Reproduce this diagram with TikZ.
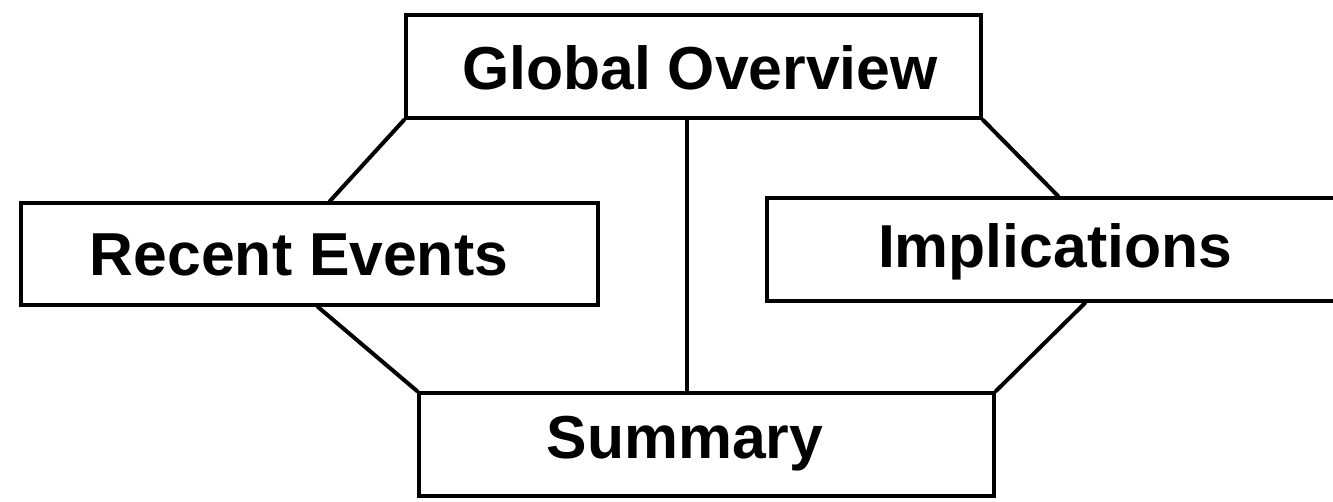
\documentclass[tikz,border=0pt]{standalone}
\usepackage{fontspec}
\setmainfont{Liberation Sans}
\usetikzlibrary{calc}
\begin{document}
\begin{tikzpicture}[x=0.75pt,y=-0.75pt,
  boxnode/.style={draw=black,line width=3pt,rectangle,inner sep=0pt,anchor=north west},
  lbl/.style={inner sep=0pt,anchor=base,font=\fontsize{45.5}{50}\selectfont\bfseries},
  link/.style={draw=black,line width=3pt,line cap=round}]
  \useasboundingbox (0,0) rectangle (1333,502);
  \clip (0,0) rectangle (1333,502);
  % the four boxes (north-west corner, size in px)
  \node[boxnode,minimum width=575*0.75pt,minimum height=103*0.75pt] (go) at (404,13) {};
  \node[boxnode,minimum width=577*0.75pt,minimum height=102*0.75pt] (re) at (19,201) {};
  \node[boxnode,minimum width=590*0.75pt,minimum height=103*0.75pt] (im) at (765,196) {};
  \node[boxnode,minimum width=575*0.75pt,minimum height=103*0.75pt] (su) at (417,391) {};
  % labels
  \node[lbl] (gol) at (700,90) {Global Overview};
  \node[lbl] (rel) at (299,275) {Recent Events};
  \node[lbl] (iml) at (1055,267) {Implications};
  \node[lbl] (sul) at (685,458) {Summary};
  % connectors
  \draw[link] (go.south west) -- ($(re.north west)+(311,0)$);
  \draw[link] (go.south east) -- ($(im.north west)+(293,0)$);
  \draw[link] ($(go.south west)+(283,0)$) -- ($(su.north west)+(270,0)$);
  \draw[link] ($(re.south west)+(299,0)$) -- (su.north west);
  \draw[link] ($(im.south west)+(320,0)$) -- (su.north east);
\end{tikzpicture}
\end{document}
